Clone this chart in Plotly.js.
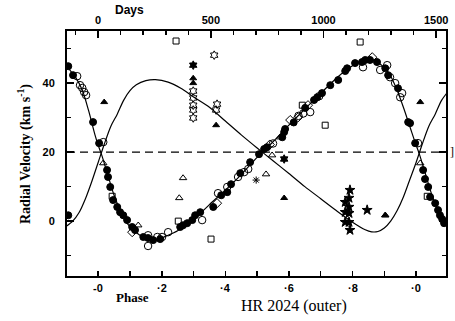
<!DOCTYPE html>
<html>
<head>
<meta charset="utf-8">
<script src="https://cdn.plot.ly/plotly-3.0.1.min.js"></script>
<style>html,body{margin:0;padding:0;background:#fff}#chart{width:455px;height:321px}</style>
</head>
<body>
<div id="chart"></div>
<script>
// ---- data (phase, radial velocity km/s) ----
const PERIOD = 1411;      // days per phase unit (top axis)
const GAMMA = 20;         // systemic velocity (dashed line)

// orbit curves
const curveAPhase = [-0.10,-0.07,-0.05,-0.03,-0.01,0.00,0.01,0.03,0.05,0.07,0.09,0.11,0.13,0.15,0.17,0.19,0.21,0.25,0.30,0.35,0.40,0.45,0.50,0.55,0.60,0.65,0.70,0.75,0.80,0.84,0.86,0.88,0.90,0.92,0.94,0.96,0.98,1.00,1.01,1.03,1.05,1.07,1.09,1.10];
const curveAVel   = [45.0,41.5,38.0,32.0,25.0,22.0,19.5,13.5,7.5,3.0,-0.5,-2.5,-4.0,-5.0,-5.5,-5.3,-4.5,-2.8,0.5,4.8,9.0,13.5,18.5,23.0,27.8,32.5,37.0,41.5,45.0,46.7,46.8,46.0,44.5,42.0,38.0,33.0,27.5,22.0,19.5,13.5,7.5,3.0,-0.5,-1.5];

const curveBPhase = [-0.10,-0.08,-0.06,-0.04,-0.02,0.00,0.02,0.04,0.06,0.08,0.10,0.12,0.15,0.18,0.22,0.26,0.30,0.35,0.40,0.45,0.50,0.55,0.60,0.65,0.70,0.75,0.80,0.84,0.86,0.88,0.90,0.92,0.94,0.96,0.98,1.00,1.02,1.04,1.06,1.08,1.10];
const curveBVel   = [-1.5,0.0,2.5,6.5,11.5,17.0,22.5,27.5,31.0,35.0,37.8,39.5,40.7,41.0,40.3,38.5,36.0,33.0,29.0,25.0,21.2,17.5,13.8,10.0,6.5,3.0,-0.3,-2.5,-3.1,-3.0,-2.0,0.0,3.0,7.0,12.0,17.0,22.5,27.5,31.0,35.0,37.5];

const filledCirclePhase = [-0.094,-0.079,-0.016,0.003,0.028,0.031,0.038,0.047,0.060,0.069,0.079,0.091,0.107,0.116,0.142,0.157,0.173,0.195,0.258,0.267,0.280,0.296,0.305,0.321,0.362,0.387,0.406,0.418,0.447,0.478,0.506,0.522,0.531,0.579,0.585,0.588,0.615,0.651,0.679,0.689,0.704,0.730,0.755,0.777,0.783,0.808,0.830,0.840,0.855,0.877,0.903,0.912,0.943,0.975,0.981,0.997,1.022,1.028,1.038,1.044,1.060,1.069,1.075,1.082,1.088,-0.094];
const filledCircleVel   = [44.9,42.3,28.7,22.6,14.8,12.8,9.9,6.1,4.1,2.6,1.7,0.3,-1.7,-2.6,-4.6,-4.9,-5.5,-5.2,-1.7,-1.2,-0.6,0.3,1.7,2.6,4.1,7.5,8.4,10.7,13.9,17.1,19.4,20.9,21.4,24.3,25.8,26.7,28.6,32.8,35.1,35.9,37.1,39.4,40.9,43.5,44.3,45.8,46.1,46.7,46.7,46.1,44.3,42.3,38.5,28.7,28.4,22.6,14.8,12.2,9.9,7.0,5.2,3.2,1.7,0.6,-0.6,1.7];

const openCirclePhase = [-0.066,-0.057,-0.050,-0.044,-0.038,0.016,0.157,0.157,0.186,0.201,0.220,0.327,0.377,0.406,0.440,0.459,0.472,0.550,0.630,0.645,0.667,0.695,0.833,0.887,0.909,0.918,0.934,0.950,0.956,1.006];
const openCircleVel   = [42.0,39.4,38.6,37.4,36.5,22.9,-7.2,-4.1,-4.6,-4.6,-3.2,0.3,8.1,9.9,12.8,14.2,15.1,22.5,30.5,31.2,31.6,36.2,44.6,43.8,45.2,41.7,40.0,35.9,37.1,22.6];

const openDiamondPhase = [0.107,0.374,0.540,0.604,0.629,0.660,0.862];
const openDiamondVel   = [-3.2,5.2,22.2,29.3,30.1,33.6,47.5];

const openTrianglePhase = [0.016,0.126,0.255,0.267,0.528,0.547,0.572,1.013,0.903];
const openTriangleVel   = [16.8,-1.2,6.7,12.5,13.6,19.1,24.3,16.8,1.7];

const filledTrianglePhase = [0.019,0.299,0.299,0.371,0.585,1.013,0.903];
const filledTriangleVel   = [34.5,41.4,40.0,27.8,6.7,34.5,1.7];

const openSquarePhase = [0.245,0.824,0.044,0.252,0.355,0.642,0.714,1.035];
const openSquareVel   = [52.2,51.9,7.2,0.0,-5.2,33.6,27.8,7.2];

const openHexPhase = [0.365,0.299,0.299,0.299,0.299,0.299,0.374,0.371];
const openHexVel   = [48.1,37.7,35.7,33.6,32.2,29.9,33.9,32.2];

const filledHexPhase = [0.299,0.585];
const filledHexVel   = [45.2,18.0];

const starPhase = [0.792,0.777,0.789,0.777,0.789,0.789,0.777,0.789,0.792,0.846];
const starVel   = [9.0,5.5,6.7,2.6,4.1,2.3,-0.3,-0.3,-2.6,3.2];

const asteriskPhase = [0.497];
const asteriskVel   = [11.9];

// axis ticks
const phaseTickVals = [0,0.2,0.4,0.6,0.8,1.0];
const phaseTickText = ['-0','·2','·4','·6','·8','·0'];
const phaseMinorVals = [0.1,0.3,0.5,0.7,0.9];
const velTickVals = [0,20,40];
const velMinorVals = [-10,10,30,50];
const dayTickVals = [0,500,1000,1500];
const dayMinorVals = [-100,100,200,300,400,600,700,800,900,1100,1200,1300,1400];

const phaseRange = [-0.098,1.094];
const velRange = [-15.9,55.1];

// ---- plotting ----
const K = '#000';
function pts(x,y,symbol,size,extra){
  return Object.assign({x:x,y:y,type:'scatter',mode:'markers',hoverinfo:'skip',
    marker:{symbol:symbol,size:size,color:K,line:{color:K,width:1}}},extra||{});
}
const traces = [
  {x:curveAPhase,y:curveAVel,type:'scatter',mode:'lines',line:{color:K,width:1.2,shape:'spline',smoothing:0.8},hoverinfo:'skip'},
  {x:curveBPhase,y:curveBVel,type:'scatter',mode:'lines',line:{color:K,width:1.2,shape:'spline',smoothing:0.8},hoverinfo:'skip'},
  pts(filledCirclePhase,filledCircleVel,'circle',7),
  pts(openCirclePhase,openCircleVel,'circle-open',7.5),
  pts(openDiamondPhase,openDiamondVel,'diamond-open',7),
  pts(openTrianglePhase,openTriangleVel,'triangle-up-open',6.5),
  pts(filledTrianglePhase,filledTriangleVel,'triangle-up',6),
  pts(openSquarePhase,openSquareVel,'square-open',6),
  pts(openHexPhase,openHexVel,'hexagram-open',6.5),
  pts(filledHexPhase,filledHexVel,'hexagram',6.5),
  pts(starPhase,starVel,'star',7.5),
  pts(asteriskPhase,asteriskVel,'asterisk-open',6),
  {x:dayTickVals,y:dayTickVals.map(()=>null),xaxis:'x2',type:'scatter',mode:'markers',hoverinfo:'skip',showlegend:false}
];

const tickFont = {family:'Liberation Sans, Arial, sans-serif',size:11,color:K,weight:'bold'};
const L = 67, R = 446, T = 31, B = 276;
function px(x){return (x-L)/(R-L);}
function py(y){return (B-y)/(B-T);}

const phaseLabelAnns = phaseTickVals.map((v,i)=>({
  text:phaseTickText[i],xref:'x',yref:'paper',x:v,y:py(288),showarrow:false,xanchor:'center',yanchor:'middle',
  font:{family:'Liberation Sans, Arial, sans-serif',size:11,color:K,weight:'bold'}
}));

const layout = {
  width:455,height:321,
  margin:{l:67,r:9,t:31,b:45,pad:0},
  paper_bgcolor:'#fff',plot_bgcolor:'#fff',
  showlegend:false,
  xaxis:{range:phaseRange,showgrid:false,zeroline:false,showline:true,linecolor:K,linewidth:2,mirror:true,
    tickmode:'array',tickvals:phaseTickVals,showticklabels:false,ticks:'inside',ticklen:5,tickwidth:1.5,tickcolor:K,
    minor:{tickmode:'array',tickvals:phaseMinorVals,ticks:'inside',ticklen:5,tickwidth:1.5,tickcolor:K}},
  xaxis2:{overlaying:'x',side:'top',range:[phaseRange[0]*PERIOD,phaseRange[1]*PERIOD],showgrid:false,zeroline:false,showline:false,
    tickmode:'array',tickvals:dayTickVals,ticks:'inside',ticklen:7,tickwidth:1.5,tickcolor:K,
    minor:{tickmode:'array',tickvals:dayMinorVals,ticks:'inside',ticklen:4,tickwidth:1.5,tickcolor:K},
    tickfont:tickFont,ticklabelstandoff:4},
  yaxis:{range:velRange,showgrid:false,zeroline:false,showline:true,linecolor:K,linewidth:2,mirror:'ticks',
    tickmode:'array',tickvals:velTickVals,ticks:'inside',ticklen:7,tickwidth:1.5,tickcolor:K,
    minor:{tickmode:'array',tickvals:velMinorVals,ticks:'inside',ticklen:4,tickwidth:1.5,tickcolor:K},
    tickfont:tickFont,ticklabelstandoff:8},
  shapes:[{type:'line',xref:'x domain',yref:'y',x0:0,x1:1,y0:GAMMA,y1:GAMMA,line:{color:K,width:1.3,dash:'8px,5px'}}],
  annotations:phaseLabelAnns.concat([
    {text:'Days',xref:'paper',yref:'paper',x:px(129),y:py(10),showarrow:false,xanchor:'center',yanchor:'middle',
      font:{family:'Liberation Sans, Arial, sans-serif',size:12,color:K,weight:'bold'}},
    {text:'Phase',xref:'paper',yref:'paper',x:px(132),y:py(297),showarrow:false,xanchor:'center',yanchor:'middle',
      font:{family:'Liberation Serif, Times New Roman, serif',size:13,color:K,weight:'bold'}},
    {text:'HR 2024 (outer)',xref:'paper',yref:'paper',x:px(294),y:py(306),showarrow:false,xanchor:'center',yanchor:'middle',
      font:{family:'Liberation Serif, Times New Roman, serif',size:16,color:K}},
    {text:'Radial Velocity (km s<sup>-1</sup>)',xref:'paper',yref:'paper',x:px(24),y:py(154),showarrow:false,textangle:-90,
      xanchor:'center',yanchor:'middle',font:{family:'Liberation Serif, Times New Roman, serif',size:14,color:K,weight:'bold'}},
    {text:']',xref:'paper',yref:'paper',x:px(452),y:py(152),showarrow:false,xanchor:'center',yanchor:'middle',
      font:{family:'Liberation Serif, serif',size:12,color:K}}
  ])
};
Plotly.newPlot('chart',traces,layout,{staticPlot:true,displayModeBar:false});
</script>
</body>
</html>
